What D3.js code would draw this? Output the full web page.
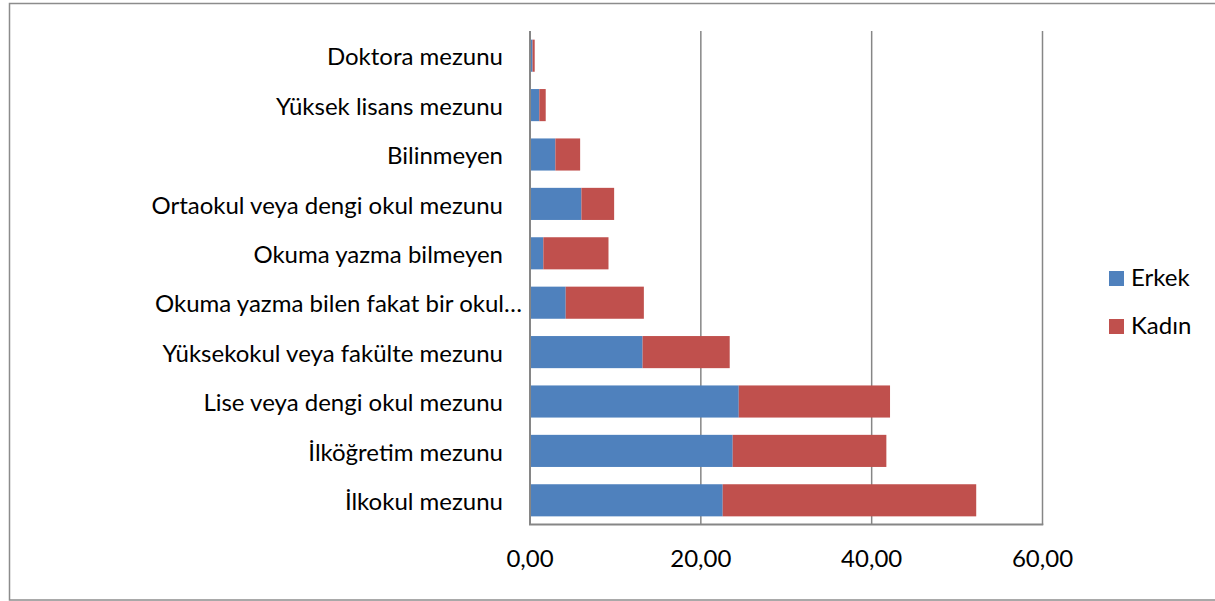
<!DOCTYPE html>
<html><head><meta charset="utf-8">
<script src="https://cdn.jsdelivr.net/npm/d3@7"></script>
<style>body{margin:0;background:#fff}svg{display:block}text{font-family:Lato,"Open Sans",sans-serif;fill:#000}</style>
</head><body><svg id="c" width="1215" height="601"></svg>
<script>
const categories = ["Doktora mezunu","Yüksek lisans mezunu","Bilinmeyen","Ortaokul veya dengi okul mezunu","Okuma yazma bilmeyen","Okuma yazma bilen fakat bir okul…","Yüksekokul veya fakülte mezunu","Lise veya dengi okul mezunu","İlköğretim mezunu","İlkokul mezunu"];
const erkek = [0.30,1.09,2.97,6.02,1.56,4.18,13.18,24.44,23.73,22.56];
const kadin = [0.25,0.75,2.90,3.83,7.63,9.15,10.20,17.71,17.99,29.68];
const seriesNames = ["Erkek","Kadın"];
const colors = ["#4F81BD","#C0504D"];
const tickValues = [0,20,40,60];

const FS = 24;
const svg = d3.select("#c");
svg.append("rect").attr("x",9.5).attr("y",3.5).attr("width",1220).attr("height",596.5)
  .attr("fill","none").attr("stroke","#8c8c8c").attr("stroke-width",1.5);

const x = d3.scaleLinear().domain([0,60]).range([530,1042.5]);
const y = d3.scaleBand().domain(categories).range([31,525]).paddingInner(0.35).paddingOuter(0.175);

// gridlines
svg.append("g").selectAll("line").data(tickValues.filter(d=>d>0)).join("line")
  .attr("x1",d=>x(d)).attr("x2",d=>x(d)).attr("y1",31).attr("y2",525)
  .attr("stroke","#868686").attr("stroke-width",1.5);

const data = categories.map((c,i)=>({cat:c,Erkek:erkek[i],"Kadın":kadin[i]}));
const stack = d3.stack().keys(seriesNames)(data);
svg.append("g").selectAll("g").data(stack).join("g").attr("fill",(d,i)=>colors[i])
  .selectAll("rect").data(d=>d).join("rect")
  .attr("x",d=>x(d[0])).attr("width",d=>x(d[1])-x(d[0]))
  .attr("y",d=>y(d.data.cat)).attr("height",y.bandwidth());

// axes lines
svg.append("line").attr("x1",530).attr("x2",530).attr("y1",31).attr("y2",525).attr("stroke","#868686").attr("stroke-width",2);
svg.append("line").attr("x1",529).attr("x2",x(60)+0.75).attr("y1",524.5).attr("y2",524.5).attr("stroke","#868686").attr("stroke-width",2);

// x tick labels
const fmt = d=>d3.format(".2f")(d).replace(".",",");
svg.append("g").selectAll("text").data(tickValues).join("text")
  .attr("x",d=>x(d)).attr("y",567).attr("text-anchor","middle").attr("font-size",FS).text(fmt);

// y labels (truncated label overflows to the axis like the original)
svg.append("g").selectAll("text").data(categories).join("text")
  .attr("x",d=>d.endsWith("…")?522:503).attr("y",d=>y(d)+y.bandwidth()/2).attr("dy","0.4em").attr("text-anchor","end")
  .attr("font-size",FS).text(d=>d);

// legend
const lg = svg.append("g").selectAll("g").data(seriesNames).join("g")
  .attr("transform",(d,i)=>`translate(1109,${271+i*48})`);
lg.append("rect").attr("width",15).attr("height",15).attr("fill",(d,i)=>colors[i]);
lg.append("text").attr("x",22).attr("y",14.5).attr("font-size",FS).text(d=>d);
</script></body></html>
